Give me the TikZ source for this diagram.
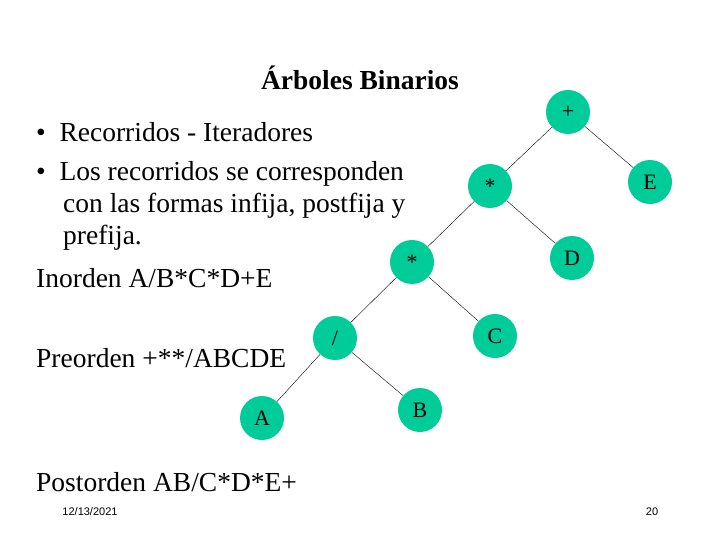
\documentclass[tikz,border=0pt]{standalone}
\usepackage{fontspec}
\setmainfont{Liberation Serif}
\setsansfont{Liberation Sans}
\definecolor{nodegreen}{RGB}{0,204,153}
\tikzset{
  treenode/.style={circle, fill=nodegreen, minimum size=44pt, inner sep=0pt, font=\fontsize{22}{22}\selectfont},
  body/.style={anchor=west, align=left, font=\fontsize{27.5}{32}\selectfont, inner sep=0pt}
}
\begin{document}
\begin{tikzpicture}[x=1pt,y=-1pt]
  \useasboundingbox (0,0) rectangle (720,540);
  % Titulo
  \node[font=\bfseries\fontsize{27.5}{28}\selectfont] (title) at (360,78) {Árboles Binarios};

  % Nodos del arbol
  \node[treenode] (plus) at (568,112) {+};
  \node[treenode] (mul1) at (490,186) {*};
  \node[treenode] (E) at (650,182) {E};
  \node[treenode] (mul2) at (412,262) {*};
  \node[treenode] (D) at (572,258) {D};
  \node[treenode] (div) at (335,338) {/};
  \node[treenode] (C) at (495,336) {C};
  \node[treenode] (A) at (262,418) {A};
  \node[treenode] (B) at (420,410) {B};

  % Aristas
  \draw (plus) -- (mul1);
  \draw (plus) -- (E);
  \draw (mul1) -- (mul2);
  \draw (mul1) -- (D);
  \draw (mul2) -- (div);
  \draw (mul2) -- (C);
  \draw (div) -- (A);
  \draw (div) -- (B);

  % Texto
  \node[body] (item1) at (36,132) {\textbullet\ \ Recorridos - Iteradores};
  \node[body] (item2) at (36,206) {\textbullet\ \ Los recorridos se corresponden\\
    \hspace*{27pt}con las formas infija, postfija y\\
    \hspace*{27pt}prefija.};
  \node[body] (inorden) at (36,278) {Inorden A/B*C*D+E};
  \node[body] (preorden) at (36,358) {Preorden +**/ABCDE};
  \node[body] (postorden) at (36,482) {Postorden AB/C*D*E+};
  \node[font=\sffamily\fontsize{11}{11}\selectfont] (fecha) at (90,512) {12/13/2021};
  \node[font=\sffamily\fontsize{11}{11}\selectfont] (pagina) at (652,512) {20};
\end{tikzpicture}
\end{document}
